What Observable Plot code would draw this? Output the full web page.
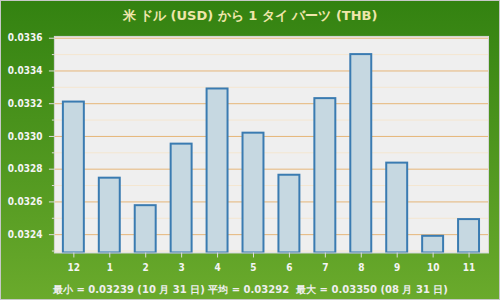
<!DOCTYPE html>
<html><head><meta charset="utf-8">
<script src="https://cdn.jsdelivr.net/npm/d3@7"></script>
<script src="https://cdn.jsdelivr.net/npm/@observablehq/plot@0.6"></script>
<style>
body{margin:0;background:#fff}
#wrap{position:relative;width:498px;height:298px;border:1px solid #c8c8c8;background:linear-gradient(#338211,#6aaa2c);font-family:"DejaVu Sans",sans-serif;font-weight:bold;overflow:hidden}
#title{position:absolute;top:6px;left:0;width:100%;text-align:center;font-size:13px;color:#efe6aa;white-space:pre}
#foot{position:absolute;top:282px;left:52px;font-size:10px;color:#eeeeee;white-space:pre}
#chart{position:absolute;left:-1px;top:-1px}
</style></head>
<body>
<div id="wrap">
  <div id="title">米 ドル (USD) から 1 タイ バーツ (THB)</div>
  <div id="chart"></div>
  <div id="foot"></div>
</div>
<script>
const months = ["12","1","2","3","4","5","6","7","8","9","10","11"];
const rates = [0.03321, 0.032745, 0.032577, 0.032953, 0.03329, 0.03302, 0.032763, 0.033231, 0.03350, 0.032837, 0.03239, 0.032492];
const dates = ["12 月 31 日","01 月 31 日","02 月 28 日","03 月 31 日","04 月 30 日","05 月 31 日","06 月 30 日","07 月 31 日","08 月 31 日","09 月 30 日","10 月 31 日","11 月 30 日"];
const majorTicks = [0.0324, 0.0326, 0.0328, 0.0330, 0.0332, 0.0334, 0.0336];
const minorTicks = [0.0323, 0.0325, 0.0327, 0.0329, 0.0331, 0.0333, 0.0335];
const yDomain = [0.032288, 0.033611];

const data = months.map((m, i) => ({month: m, rate: rates[i]}));

const font = '"DejaVu Sans Condensed","DejaVu Sans",sans-serif';
const chart = Plot.plot({
  width: 500, height: 300,
  marginTop: 36, marginBottom: 47, marginLeft: 54, marginRight: 11,
  style: {background: "transparent", fontFamily: font, fontWeight: "bold", fontSize: "10px", overflow: "visible"},
  x: {type: "band", domain: months, paddingInner: 0.42, paddingOuter: 0.21, axis: null},
  y: {domain: yDomain, axis: null},
  marks: [
    Plot.frame({fill: "#efefef", stroke: null}),
    Plot.ruleY(minorTicks, {stroke: "#f4e6d0", strokeWidth: 1}),
    Plot.ruleY(majorTicks, {stroke: "#e6b678", strokeWidth: 1}),
    Plot.barY(data, {x: "month", y1: yDomain[0], y2: "rate", fill: "#c6d8e1", stroke: "#3a7bb1", strokeWidth: 2}),
    Plot.frame({stroke: "#d6d6d6", strokeWidth: 1}),
    Plot.axisY({ticks: minorTicks, tickSize: 2, text: null, stroke: "#dddddd", label: null}),
    Plot.axisY({ticks: majorTicks, tickSize: 5, tickPadding: 7, tickFormat: d => d.toFixed(4), stroke: "#dddddd", fill: "#f4f4f4", label: null, fontSize: 10}),
    Plot.axisX({tickSize: 5, tickPadding: 6, stroke: "#dddddd", fill: "#f4f4f4", label: null, fontSize: 10})
  ]
});
document.getElementById("chart").appendChild(chart);

const minI = rates.indexOf(d3.min(rates));
const maxI = rates.indexOf(d3.max(rates));
document.getElementById("foot").textContent =
  `最小 = ${rates[minI].toFixed(5)} (${dates[minI]}) 平均 = ${d3.mean(rates).toFixed(5)}  最大 = ${rates[maxI].toFixed(5)} (${dates[maxI]})`;
</script>
</body></html>
